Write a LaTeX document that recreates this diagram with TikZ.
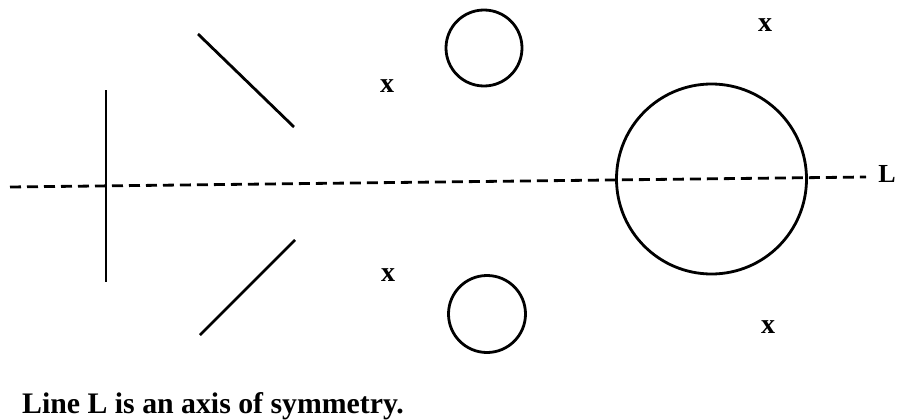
\documentclass[tikz,border=0pt]{standalone}
\usepackage{fontspec}
\setmainfont{Liberation Serif}
\begin{document}
\begin{tikzpicture}[x=1pt,y=-1pt,
  stroke/.style={line width=2.8pt},
  ring/.style={circle,draw,line width=2.8pt,inner sep=0pt},
  axisline/.style={line width=2.8pt,dash pattern=on 11pt off 6pt},
  xmark/.style={font=\bfseries\fontsize{28}{28}\selectfont,inner sep=0pt},
  capt/.style={font=\bfseries\fontsize{29.8}{32}\selectfont,inner sep=0pt,anchor=base west}]
\useasboundingbox (0,0) rectangle (897,420);
% axis L
\coordinate (Lstart) at (10,187);
\coordinate (Lend) at (866,177);
\draw[axisline] (Lstart) -- (Lend);
\node[font=\bfseries\fontsize{26}{26}\selectfont,inner sep=0pt] (Llab) at (887,173.5) {L};
% vertical line
\coordinate (v1) at (106,90);
\coordinate (v2) at (106,282);
\draw[stroke] (v1) -- (v2);
% diagonals
\coordinate (d1a) at (198,34);
\coordinate (d1b) at (294,127);
\draw[stroke] (d1a) -- (d1b);
\coordinate (d2a) at (200,335);
\coordinate (d2b) at (295,240);
\draw[stroke] (d2a) -- (d2b);
% circles
\node[ring,minimum size=76pt] (ctop) at (484,48) {};
\node[ring,minimum size=77pt] (cbot) at (487,314) {};
\node[ring,minimum size=190pt] (cbig) at (711.5,179) {};
% x marks
\node[xmark] (x1) at (387,86) {x};
\node[xmark] (x2) at (388,275) {x};
\node[xmark] (x3) at (765,25) {x};
\node[xmark] (x4) at (768,327) {x};
% caption
\node[capt] (cap) at (22,413) {Line L is an axis of symmetry.};
\end{tikzpicture}
\end{document}
